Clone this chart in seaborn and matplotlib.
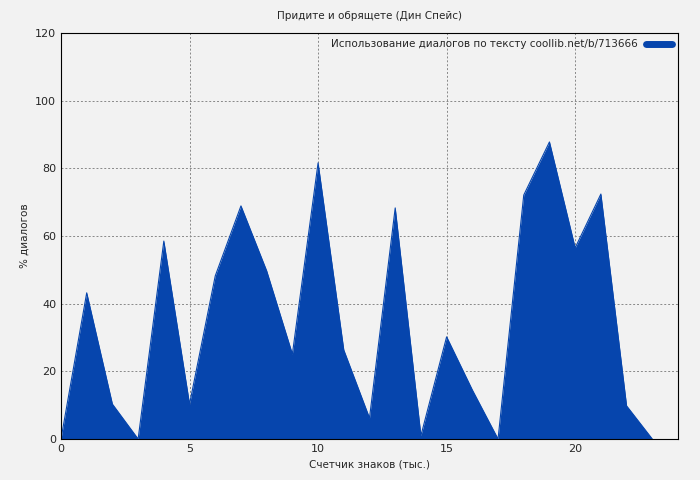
import matplotlib
matplotlib.use("Agg")
import matplotlib.pyplot as plt
import seaborn as sns
import pandas as pd

x_vals = list(range(24))
y_vals = [0, 43.2, 10.3, 0, 58.5, 10.3, 48.2, 68.9, 49.7, 25.1, 81.6, 26.3, 6.2,
          68.3, 1.0, 30.2, 14.5, 0, 72.1, 87.8, 56.5, 72.4, 9.8, 0]
title = "Придите и обрящете (Дин Спейс)"
series_label = "Использование диалогов по тексту coollib.net/b/713666"
color = "#0645ad"

sns.set_style("white")
plt.rcParams['font.family'] = ['DejaVu Sans']
df = pd.DataFrame({"x": x_vals, "y": y_vals})

fig = plt.figure(figsize=(7, 4.8), dpi=100, facecolor="#f2f2f2")
ax = fig.add_axes([61/700, 41/480, 617/700, 406/480])
ax.set_facecolor("#f2f2f2")
sns.lineplot(data=df, x="x", y="y", ax=ax, color=color, linewidth=0.8, legend=False)
ax.fill_between(df["x"], df["y"], 0, color=color, lw=0, label=series_label)
ax.set_xlim(0, 24)
ax.set_ylim(0, 120)
ax.set_xticks([0, 5, 10, 15, 20])
ax.set_yticks(range(0, 121, 20))
ax.grid(True, color="#888888", linestyle=(0, (2, 2)), linewidth=0.7)
for s in ax.spines.values():
    s.set_color("black"); s.set_linewidth(0.8)
ax.tick_params(direction="in", labelsize=8, length=4)
ax.set_xlabel("Счетчик знаков (тыс.)", fontsize=7.5)
ax.set_ylabel("% диалогов", fontsize=7.5)
ax.set_title(title, fontsize=7.5, pad=10)
from matplotlib.lines import Line2D
h = [Line2D([0], [0], color=color, lw=5)]
ax.legend(h, [series_label], loc="upper right", frameon=False, fontsize=7.5,
          markerfirst=False, handlelength=2.5, borderaxespad=0.2)
fig.savefig("out.png", dpi=100, facecolor=fig.get_facecolor())
